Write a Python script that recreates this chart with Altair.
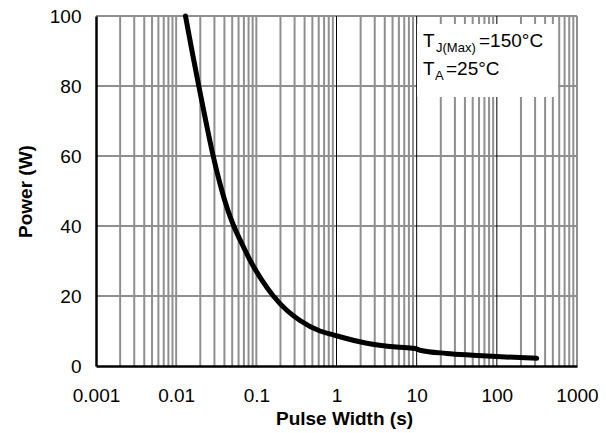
import altair as alt
import pandas as pd

# Curve
pulse_width = [0.01307, 0.01576, 0.01915, 0.02342, 0.02897, 0.0373, 0.0434, 0.0523,
               0.0659, 0.0845, 0.1167, 0.163, 0.2378, 0.3504, 0.6223, 0.91, 2.38,
               5.6, 9.5, 11, 23.7, 50, 100, 314]
power = [100, 90, 80, 70, 60, 50, 45, 40, 35, 30, 24.6, 20, 16, 13, 10, 8.9, 6.5,
         5.4, 5.0, 4.5, 3.6, 3.1, 2.7, 2.2]

# Grid positions
decades = [0.001, 0.01, 0.1, 1, 10, 100]
multipliers = [2, 3, 4, 5, 6, 7, 8, 9]
gray_decades = [0.01, 0.1, 1000]
black_decades = [1, 10, 100]
y_ticks = [0, 20, 40, 60, 80, 100]
x_ticks = [0.001, 0.01, 0.1, 1, 10, 100, 1000]

FONT = "Liberation Sans"
GRID = "#8f8f8f"

curve_df = pd.DataFrame({"x": pulse_width, "y": power})
minor_df = pd.DataFrame({"x": [d * m for d in decades for m in multipliers] + gray_decades})
black_df = pd.DataFrame({"x": black_decades})
hgrid_df = pd.DataFrame({"y": y_ticks[1:]})

xscale = alt.Scale(type="log", domain=[0.001, 1000], nice=False)
yscale = alt.Scale(domain=[0, 100], nice=False)

x_axis = alt.Axis(values=x_ticks, format="~g", title="Pulse Width (s)",
                  grid=False, ticks=False, domainColor="black", domainWidth=2.5,
                  labelFont=FONT, labelFontSize=19, labelColor="black",
                  labelPadding=20, labelFlush=False,
                  titleFont=FONT, titleFontSize=19, titleFontWeight="bold",
                  titleColor="black", titlePadding=4, titleX=248,
                  zindex=1)
y_axis = alt.Axis(values=y_ticks, title="Power (W)", grid=False, ticks=False,
                  domainColor="black", domainWidth=2.5,
                  labelFont=FONT, labelFontSize=19, labelColor="black",
                  labelPadding=15,
                  titleFont=FONT, titleFontSize=19, titleFontWeight="bold",
                  titleColor="black", titlePadding=14, zindex=1)

X = alt.X("x:Q", scale=xscale, axis=x_axis)
Y = alt.Y("y:Q", scale=yscale, axis=y_axis)

vgrid = alt.Chart(minor_df).mark_rule(color=GRID, strokeWidth=2).encode(x=X)
hgrid = alt.Chart(hgrid_df).mark_rule(color=GRID, strokeWidth=2).encode(y=Y)
bgrid = alt.Chart(black_df).mark_rule(color="black", strokeWidth=1).encode(x=X)

box = alt.Chart(pd.DataFrame({"a": [0]})).mark_rect(fill="white").encode(
    x=alt.value(321), x2=alt.value(462), y=alt.value(8), y2=alt.value(81)
)

def txt(s, x, y, size):
    return alt.Chart(pd.DataFrame({"a": [0]})).mark_text(
        text=s, font=FONT, fontSize=size, align="left", baseline="alphabetic", color="black"
    ).encode(x=alt.value(x), y=alt.value(y))

texts = [
    txt("T", 327, 31, 19),
    txt("J(Max)", 340, 36, 13),
    txt("=150°C", 383, 31, 19),
    txt("T", 327, 59, 19),
    txt("A", 339, 64, 13),
    txt("=25°C", 350, 59, 19),
]

curve = alt.Chart(curve_df).mark_line(
    color="black", strokeWidth=5, strokeCap="round", interpolate="monotone"
).encode(x=X, y=Y)

chart = alt.layer(vgrid, hgrid, bgrid, box, *texts, curve).properties(
    width=481, height=350,
    autosize=alt.AutoSizeParams(type="none"),
    padding={"left": 88, "top": 8, "right": 21, "bottom": 66},
).configure_view(stroke=None).configure(background="white")

chart.save("out.html", embed_options={"renderer": "svg", "actions": False})
